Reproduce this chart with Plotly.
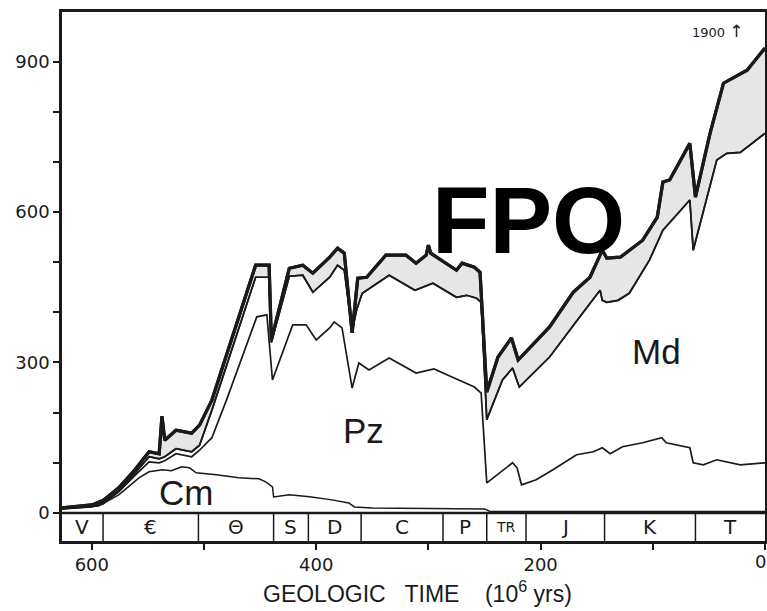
import plotly.graph_objects as go

# ---------------- data (ages in Myr, values = number of families) ----------------
total_age = [627, 600, 590, 576, 562, 549, 540, 537.5, 535, 525, 511, 504, 493, 454, 442, 440,
             424, 412, 403, 388, 381, 375, 368, 363, 355, 338, 320, 311, 302, 300, 298, 275,
             270, 259, 254, 248, 238, 226, 220, 192, 171, 156, 145, 141, 129, 109, 96, 91, 85,
             67, 62, 49, 37, 29, 16, 0]
total_val = [10, 16, 25, 50, 85, 122, 118, 193, 145, 165, 159, 175, 225, 494, 494, 345,
             488, 494, 478, 510, 528, 518, 359, 468, 470, 514, 514, 498, 514, 534, 518, 484,
             498, 490, 480, 241, 311, 349, 305, 371, 440, 470, 524, 508, 510, 544, 590, 660, 664,
             737, 630, 757, 857, 867, 883, 927]

md_age = [627, 600, 590, 576, 562, 549, 540, 535, 525, 511, 504, 493, 454, 442, 440, 424, 412,
          403, 388, 381, 375, 368, 364, 359, 335, 312, 296, 275, 266, 257, 253, 248, 234, 225,
          219, 192, 165, 147, 145, 141, 131, 121, 103, 91, 67, 64, 43, 34, 22, 0]
md_val = [9, 14, 21, 44, 78, 112, 108, 112, 128, 122, 135, 205, 470, 470, 340, 472, 474,
          440, 470, 494, 484, 362, 405, 438, 474, 444, 458, 430, 434, 428, 420, 186, 265, 289,
          251, 311, 391, 444, 424, 420, 424, 438, 504, 564, 624, 524, 704, 717, 719, 757]

pz_age = [627, 600, 590, 576, 562, 549, 540, 535, 525, 511, 504, 493, 480, 453, 444, 439, 421,
          409, 400, 388, 384, 377, 368, 362, 353, 335, 311, 295, 279, 259, 253, 248, 241, 225,
          221, 217, 204, 189, 168, 153, 145, 138, 127, 109, 92, 88, 67, 64, 55, 43, 22, 0]
pz_val = [8, 12, 18, 42, 74, 102, 100, 104, 118, 112, 125, 150, 225, 391, 395, 265, 375,
          375, 345, 369, 381, 369, 249, 299, 285, 309, 279, 287, 271, 251, 239, 60, 72, 100,
          90, 56, 66, 86, 116, 122, 130, 118, 132, 140, 150, 140, 130, 100, 96, 106, 96, 100]

cm_age = [627, 594, 576, 558, 549, 537, 529, 520, 513, 507, 489, 469, 451, 445, 439, 438, 424,
          406, 386, 371, 366, 350, 300, 250, 245, 0]
cm_val = [8, 14, 36, 70, 82, 86, 84, 92, 90, 80, 76, 70, 68, 62, 52, 32, 36,
          32, 26, 20, 12, 10, 9, 8, 3, 3]

period_bounds = [627, 590, 505, 438, 407, 360, 287, 248, 213, 143, 62, 0]
period_labels = ["V", "€", "Θ", "S", "D", "C", "P", "TR", "J", "K", "T"]

y_ticks = [0, 300, 600, 900]
x_ticks = [600, 400, 200]
x_minor = [500, 300, 100, 0]

# ---------------- figure ----------------
INK = "#1a1a1a"
FONT = "DejaVu Sans, Verdana, sans-serif"
SANS = "Liberation Sans, Arial, sans-serif"
BAR_BOTTOM = -56
fig = go.Figure()

# shaded band (poorly preserved) between Md top and total
fig.add_trace(go.Scatter(x=md_age, y=md_val, mode="lines",
                         line=dict(color=INK, width=1.7), hoverinfo="skip"))
fig.add_trace(go.Scatter(x=total_age, y=total_val, mode="lines", fill="tonexty",
                         fillcolor="#e6e6e6", line=dict(color=INK, width=3.2), hoverinfo="skip"))
# other cumulative curves
fig.add_trace(go.Scatter(x=pz_age, y=pz_val, mode="lines",
                         line=dict(color=INK, width=1.7), hoverinfo="skip"))
fig.add_trace(go.Scatter(x=cm_age, y=cm_val, mode="lines",
                         line=dict(color=INK, width=1.5), hoverinfo="skip"))
# redraw lines on top of fill
fig.add_trace(go.Scatter(x=md_age, y=md_val, mode="lines",
                         line=dict(color=INK, width=1.7), hoverinfo="skip"))
fig.add_trace(go.Scatter(x=total_age, y=total_val, mode="lines",
                         line=dict(color=INK, width=3.2), hoverinfo="skip"))

# period bar
shapes = []
shapes.append(dict(type="line", xref="x", yref="y", x0=period_bounds[0], x1=period_bounds[-1],
                   y0=0, y1=0, line=dict(color=INK, width=2.5)))
for b in period_bounds[1:-1]:
    shapes.append(dict(type="line", xref="x", yref="y", x0=b, x1=b, y0=BAR_BOTTOM, y1=0,
                       line=dict(color=INK, width=1.5)))
annotations = []
for i, lab in enumerate(period_labels):
    mid = (period_bounds[i] + period_bounds[i + 1]) / 2
    annotations.append(dict(x=mid, y=BAR_BOTTOM / 2, xref="x", yref="y", text=lab,
                            showarrow=False,
                            font=dict(size=20 if lab != "TR" else 14, color=INK, family=FONT)))

label_font = dict(size=35, color=INK, family="Liberation Sans Narrow, Liberation Sans, Arial, sans-serif")
annotations += [
    dict(x=358, y=165, xref="x", yref="y", text="Pz", showarrow=False, font=label_font),
    dict(x=97, y=321, xref="x", yref="y", text="Md", showarrow=False, font=label_font),
    dict(x=516, y=40, xref="x", yref="y", text="Cm", showarrow=False, font=label_font),
    dict(x=18, y=962, xref="x", yref="y", text="1900 <span style='font-size:17px'>↑</span>",
         showarrow=False, xanchor="right",
         font=dict(size=13, color=INK, family=FONT)),
    dict(x=211, y=584, xref="x", yref="y", text="<b>FPO</b>", showarrow=False,
         font=dict(size=94, color="black", family=SANS)),
    # x tick label "0" at the right edge
    dict(x=0, y=BAR_BOTTOM, xref="x", yref="y", yanchor="top", xanchor="right", yshift=-8,
         xshift=3, text="0", showarrow=False, font=dict(size=18, color=INK, family=FONT)),
    dict(x=0.506, y=-0.064, xref="paper", yref="paper", yanchor="top",
         text="GEOLOGIC   TIME    (10<sup>6</sup> yrs)", showarrow=False,
         font=dict(size=23, color=INK, family=SANS)),
]

fig.update_layout(
    width=767, height=611,
    margin=dict(l=62, r=2, t=12, b=70),
    paper_bgcolor="white", plot_bgcolor="white",
    showlegend=False,
    shapes=shapes, annotations=annotations,
    template="none",
    xaxis=dict(range=[626.6, 0], tickvals=x_ticks, ticktext=[str(v) for v in x_ticks],
               ticks="outside", ticklen=6, tickwidth=1.5, tickcolor=INK,
               minor=dict(tickvals=x_minor, ticks="outside", ticklen=6, tickcolor=INK),
               showline=True, linecolor=INK, linewidth=2.5, mirror=True,
               showgrid=False, zeroline=False, automargin=False,
               tickfont=dict(size=18, color=INK, family=FONT)),
    yaxis=dict(range=[BAR_BOTTOM, 999], tickvals=y_ticks, ticktext=[str(v) for v in y_ticks],
               ticks="outside", ticklen=6, tickwidth=1.5, tickcolor=INK,
               minor=dict(tickvals=[100, 200, 400, 500, 700, 800], ticks="outside", ticklen=6,
                          tickcolor=INK),
               showline=True, linecolor=INK, linewidth=2.5, mirror=True,
               showgrid=False, zeroline=False, automargin=False,
               tickfont=dict(size=18, color=INK, family=FONT)),
)

fig.write_html("out.html")
